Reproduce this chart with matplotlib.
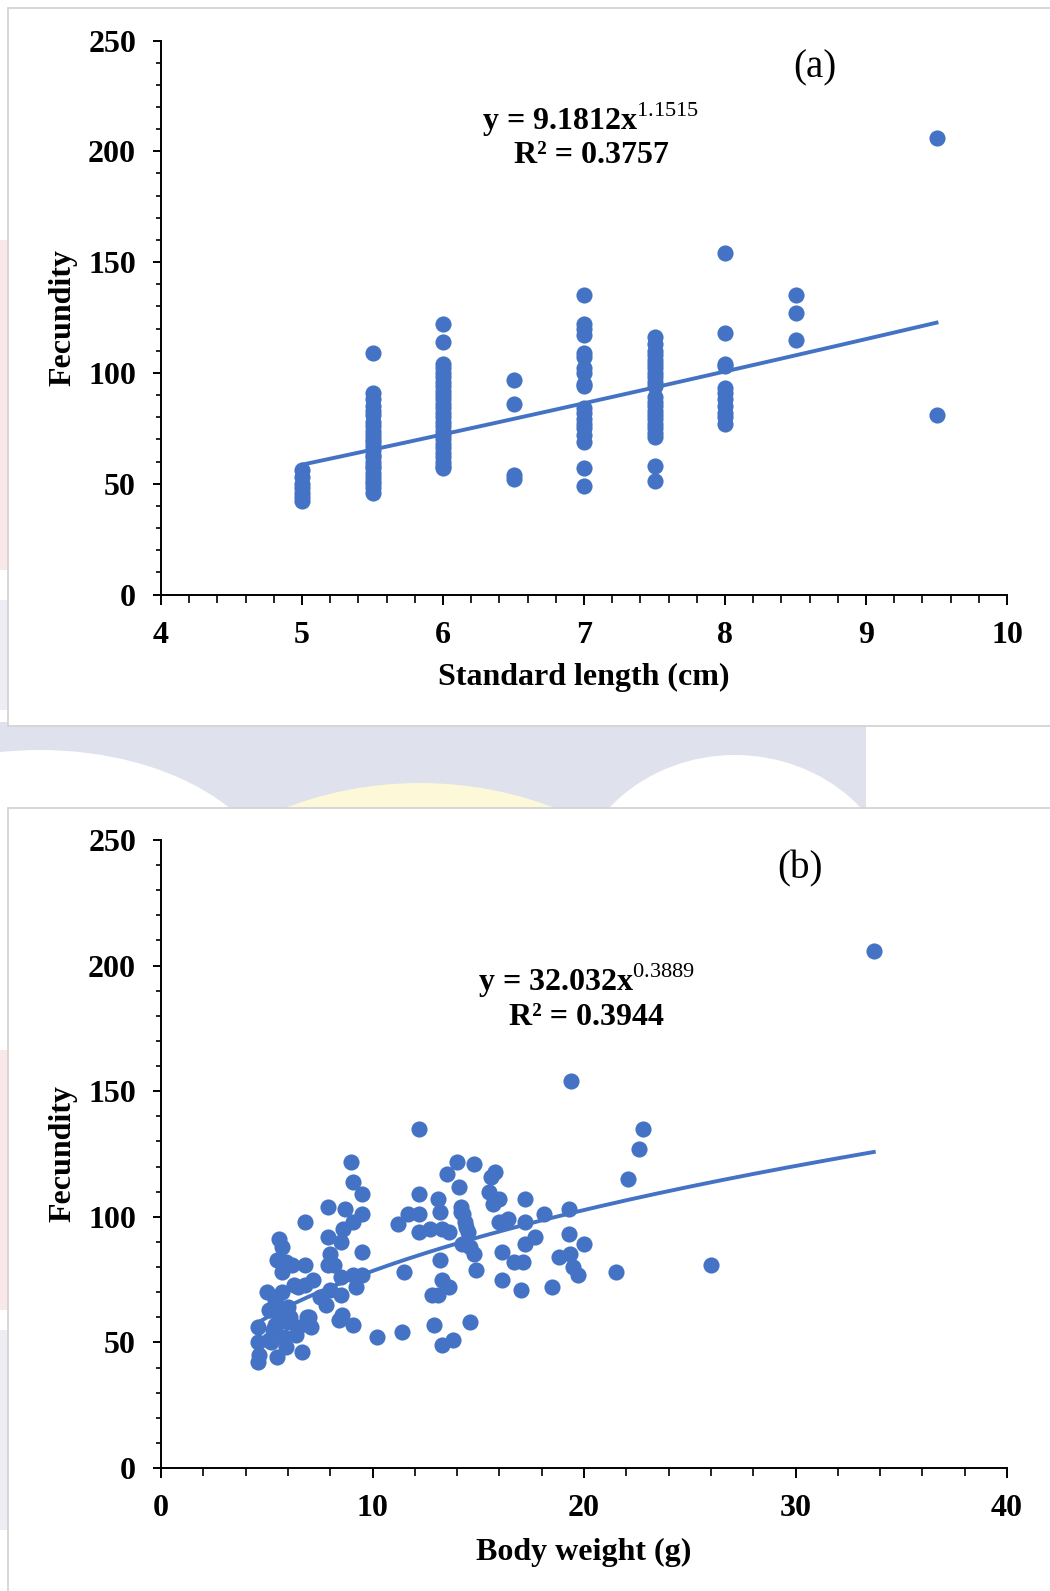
import numpy as np
import matplotlib
matplotlib.use('Agg')
import matplotlib.pyplot as plt
from matplotlib.patches import Rectangle, Ellipse
from matplotlib.ticker import MultipleLocator

plt.rcParams['font.family'] = ['Liberation Serif', 'DejaVu Serif']
plt.rcParams['mathtext.fontset'] = 'custom'
plt.rcParams['mathtext.rm'] = 'Liberation Serif'
plt.rcParams['mathtext.bf'] = 'Liberation Serif:bold'

BLUE = '#4472C4'

# ---- panel (a): fecundity vs standard length (cm) ----
lengths = [5.0, 5.5, 6.0, 6.5, 7.0, 7.5, 8.0, 8.5, 9.5]
f_50 = [56, 53, 50, 48, 46, 44, 42]
f_55 = [109, 91, 88, 85, 83, 81, 78, 76, 74, 72, 70, 69, 67, 65, 63, 62, 60,
        58, 57, 55, 53, 51, 50, 48, 46]
f_60 = [122, 114, 104, 102, 100, 98, 96, 94, 92, 90, 88, 86, 84, 82, 80, 78,
        76, 74, 72, 70, 68, 66, 64, 62, 60, 58, 57]
f_65 = [97, 86, 54, 52]
f_70 = [135, 122, 120, 117, 109, 107, 102, 100, 95, 94, 84, 82, 79, 77, 75,
        72, 69, 57, 49]
f_75 = [116, 113, 110, 108, 106, 104, 102, 100, 98, 96, 94, 89, 87, 85, 83,
        81, 79, 77, 75, 73, 71, 58, 51]
f_80 = [154, 118, 104, 103, 93, 91, 88, 85, 82, 80, 77]
f_85 = [135, 127, 115]
f_95 = [206, 81]
fec_cols = [f_50, f_55, f_60, f_65, f_70, f_75, f_80, f_85, f_95]

# power trend shown on chart (a)
a_coef, a_exp = 9.1812, 1.1515

# ---- panel (b): fecundity vs body weight (g) ----
weight_b = [33.7, 19.4, 12.2, 22.8, 22.6, 22.1, 26.0, 21.5, 18.5, 17.0,
            20.0, 19.3, 18.8, 19.35, 19.5, 19.7, 17.7, 18.1, 17.2, 19.3,
            17.2, 17.2, 17.1, 16.7, 16.1, 16.1, 16.15, 16.4, 15.8, 15.6,
            15.5, 16.0, 15.7, 14.8, 14.0, 13.5, 14.1, 14.2, 14.2, 14.35,
            14.5, 14.25, 14.8, 14.9, 13.1, 13.2, 12.2, 11.7, 12.2, 11.2,
            12.2, 12.7, 13.3, 13.6, 13.2, 13.3, 13.6, 12.8, 13.1, 11.5,
            12.9, 14.6, 13.8, 13.3, 11.4, 10.2, 9.0, 9.1, 9.5, 7.9,
            8.7, 9.5, 9.1, 6.8, 8.6, 7.9, 8.5, 9.5, 5.6, 5.7,
            5.5, 5.9, 6.2, 6.8, 8.0, 8.2, 7.9, 5.7, 8.5, 9.5,
            9.1, 7.2, 9.2, 6.3, 6.5, 5.0, 5.7, 8.0, 8.5, 5.2,
            7.8, 5.4, 6.0, 7.0, 8.55, 8.4, 9.1, 4.6, 5.6, 6.0,
            6.5, 7.1, 5.4, 6.4, 4.6, 5.1, 5.9, 6.65, 5.5, 4.6,
            4.65, 5.4, 5.9, 5.7, 5.5, 6.8, 14.4, 14.6, 16.0, 14.3,
            5.3, 6.1, 7.5, 5.6, 5.1, 5.2, 5.8, 6.9]
fec_b = [206, 154, 135, 135, 127, 115, 81, 78, 72, 71,
         89, 93, 84, 85, 80, 77, 92, 101, 107, 103,
         98, 89, 82, 82, 75, 86, 98, 99, 118, 116,
         110, 107, 105, 121, 122, 117, 112, 104, 102, 98,
         94, 89, 85, 79, 107, 102, 109, 101, 101, 97,
         94, 95, 95, 94, 83, 75, 72, 69, 69, 78,
         57, 58, 51, 49, 54, 52, 122, 114, 109, 104,
         103, 101, 98, 98, 95, 92, 90, 86, 91, 88,
         83, 82, 81, 81, 85, 81, 81, 78, 76, 77,
         77, 75, 72, 73, 72, 70, 70, 71, 69, 63,
         65, 67, 64, 60, 61, 59, 57, 56, 58, 58,
         56, 56, 57, 53, 50, 51, 48, 46, 44, 42,
         45, 54, 60, 62, 65, 73, 96, 88, 98, 101,
         55, 60, 68, 64, 63, 50, 52, 60]

b_coef, b_exp = 32.032, 0.3889

W, H = 1050, 1591
fig = plt.figure(figsize=(W / 100, H / 100), dpi=100)

# background (faint watermark + panel frames), in pixel coords
bg = fig.add_axes([0, 0, 1, 1], zorder=-10)
bg.set_xlim(0, W)
bg.set_ylim(H, 0)
bg.axis('off')
bg.add_patch(Rectangle((0, 722), 866, 90, color='#dfe1ec', lw=0))
bg.add_patch(Ellipse((40, 900), 480, 300, color='white', lw=0))
bg.add_patch(Ellipse((735, 905), 330, 300, color='white', lw=0))
bg.add_patch(Ellipse((420, 1160), 754, 754, color='#fdf8d8', lw=0))
bg.add_patch(Rectangle((0, 240), 9, 330, color='#fae8e8', lw=0))
bg.add_patch(Rectangle((0, 1050), 9, 260, color='#fae8e8', lw=0))
bg.add_patch(Rectangle((0, 600), 9, 110, color='#eceef4', lw=0))
bg.add_patch(Rectangle((0, 1330), 9, 200, color='#eceef4', lw=0))
bg.add_patch(Rectangle((8, 8), 1060, 718, facecolor='white',
                       edgecolor='#d4d4d4', lw=1.3))
bg.add_patch(Rectangle((8, 808), 1060, 800, facecolor='white',
                       edgecolor='#d4d4d4', lw=1.3))


def style_axes(ax, xmaj, xmin):
    for s in ['top', 'right']:
        ax.spines[s].set_visible(False)
    for s in ['left', 'bottom']:
        ax.spines[s].set_linewidth(1.4)
    ax.yaxis.set_major_locator(MultipleLocator(50))
    ax.yaxis.set_minor_locator(MultipleLocator(10))
    ax.xaxis.set_major_locator(MultipleLocator(xmaj))
    ax.xaxis.set_minor_locator(MultipleLocator(xmin))
    ax.tick_params(axis='y', which='major', direction='out', length=6,
                   width=1.4, pad=12)
    ax.tick_params(axis='y', which='minor', direction='out', length=3.6,
                   width=1.2)
    ax.tick_params(axis='x', which='major', direction='out', length=7,
                   width=1.4, pad=12)
    ax.tick_params(axis='x', which='minor', direction='out', length=5.5,
                   width=1.2)
    for lab in ax.get_xticklabels() + ax.get_yticklabels():
        lab.set_fontsize(23)
        lab.set_fontweight('bold')
    ax.patch.set_alpha(0)


# ---- (a) ----
ax1 = fig.add_axes([161 / W, 1 - 594.5 / H, 846 / W, 554 / H])
for x, col in zip(lengths, fec_cols):
    ax1.scatter([x] * len(col), col, s=135, color=BLUE, lw=0, zorder=3)
xa = np.linspace(min(lengths), max(lengths), 100)
ax1.plot(xa, a_coef * xa ** a_exp, color=BLUE, lw=2.8, zorder=2)
ax1.set_xlim(4, 10)
ax1.set_ylim(0, 250)
style_axes(ax1, 1, 0.2)
ax1.text(-0.116, 0.5, 'Fecundity', transform=ax1.transAxes, rotation=90,
         ha='center', va='center', fontsize=23, fontweight='bold')
ax1.text(0.5, -0.149, 'Standard length (cm)', transform=ax1.transAxes,
         ha='center', va='center', fontsize=23, fontweight='bold')
ax1.text(7.05, 214, r'y = 9.1812x$^{\mathrm{1.1515}}$', ha='center',
         va='center', fontsize=23, fontweight='bold')
ax1.text(7.05, 198, 'R² = 0.3757', ha='center', va='center', fontsize=23,
         fontweight='bold')
ax1.text(8.64, 237.6, '(a)', ha='center', va='center', fontsize=28)

# ---- (b) ----
ax2 = fig.add_axes([161 / W, 1 - 1468 / H, 846 / W, 628 / H])
ax2.scatter(weight_b, fec_b, s=135, color=BLUE, lw=0, zorder=3)
xb = np.linspace(min(weight_b), max(weight_b), 200)
ax2.plot(xb, b_coef * xb ** b_exp, color=BLUE, lw=2.8, zorder=2)
ax2.set_xlim(0, 40)
ax2.set_ylim(0, 250)
style_axes(ax2, 10, 2)
ax2.text(-0.116, 0.5, 'Fecundity', transform=ax2.transAxes, rotation=90,
         ha='center', va='center', fontsize=23, fontweight='bold')
ax2.text(0.5, -0.134, 'Body weight (g)', transform=ax2.transAxes,
         ha='center', va='center', fontsize=23, fontweight='bold')
ax2.text(20.1, 194, r'y = 32.032x$^{\mathrm{0.3889}}$', ha='center',
         va='center', fontsize=23, fontweight='bold')
ax2.text(20.1, 179.5, 'R² = 0.3944', ha='center', va='center', fontsize=23,
         fontweight='bold')
ax2.text(30.2, 238.5, '(b)', ha='center', va='center', fontsize=28)

plt.savefig('out.png', dpi=100)
